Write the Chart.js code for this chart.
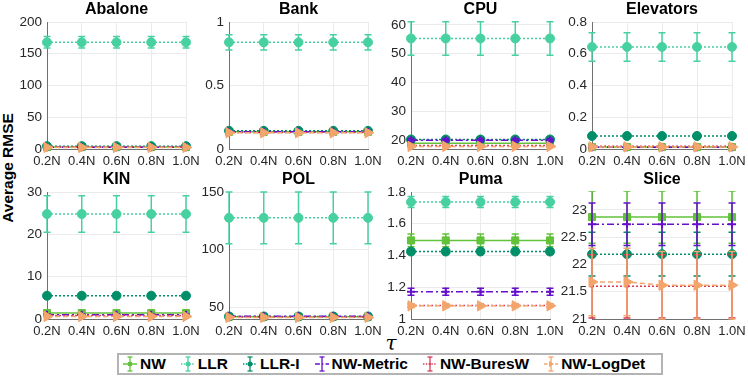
<!DOCTYPE html>
<html><head><meta charset="utf-8">
<script src="https://cdn.jsdelivr.net/npm/chart.js@4.4.1/dist/chart.umd.min.js"></script>
<style>
html,body{margin:0;padding:0;background:#fff;}
body{width:748px;height:382px;position:relative;overflow:hidden;font-family:"Liberation Sans",Arial,Helvetica,sans-serif;}
canvas{position:absolute;}
#ylab{position:absolute;left:8px;top:168px;transform:translate(-50%,-50%) rotate(-90deg);font-weight:bold;font-size:15.5px;white-space:nowrap;color:#000;}
#tau{position:absolute;left:391px;top:343px;transform:translate(-50%,-50%);font-family:"DejaVu Serif",serif;font-style:italic;font-size:20px;line-height:20px;color:#000;}
#legend{position:absolute;left:117px;top:353px;width:546px;height:22px;box-sizing:border-box;border:2px solid #b4b4b4;display:flex;align-items:center;padding-left:4px;background:#fff;}
.item{display:flex;align-items:center;margin-right:15px;font-weight:bold;font-size:15.5px;color:#000;white-space:nowrap;}
.item svg{margin-right:3px;}
</style></head>
<body>
<div id="ylab">Average RMSE</div>
<div id="tau">τ</div>
<div id="legend"></div>
<script>
// ---------- data ----------
const tauLabels = ['0.2N','0.4N','0.6N','0.8N','1.0N'];
const panelTitles = ['Abalone','Bank','CPU','Elevators','KIN','POL','Puma','Slice'];
const methodNames = ['NW','LLR','LLR-I','NW-Metric','NW-BuresW','NW-LogDet'];
const yMin = [0, 0, 17, 0, 0, 40, 1, 21];
const yMax = [200, 1, 61, 0.8, 30, 150, 1.8, 23.33];
const yTicks = [
  [0,50,100,150,200],
  [0,0.5,1],
  [20,30,40,50,60],
  [0,0.2,0.4,0.6,0.8],
  [0,10,20,30],
  [50,100,150],
  [1,1.2,1.4,1.6,1.8],
  [21,21.5,22,22.5,23]
];

// rows: NW, LLR, LLR-I, NW-Metric, NW-BuresW, NW-LogDet
const abaloneMean = [
  [3.0,3.0,3.0,3.0,3.0],
  [168,168,168,168,168],
  [4.5,4.5,4.5,4.5,4.5],
  [2.8,2.8,2.8,2.8,2.8],
  [3.0,3.0,3.0,3.0,3.0],
  [2.5,2.5,2.5,2.5,2.5]];
const abaloneErr = [
  [0.3,0.3,0.3,0.3,0.3],
  [9,9,9,9,9],
  [0.4,0.4,0.4,0.4,0.4],
  [0.3,0.3,0.3,0.3,0.3],
  [0.3,0.3,0.3,0.3,0.3],
  [0.3,0.3,0.3,0.3,0.3]];

const bankMean = [
  [0.135,0.135,0.135,0.135,0.135],
  [0.84,0.84,0.84,0.84,0.84],
  [0.143,0.143,0.143,0.143,0.143],
  [0.135,0.135,0.135,0.135,0.135],
  [0.13,0.13,0.13,0.13,0.13],
  [0.128,0.128,0.128,0.128,0.128]];
const bankErr = [
  [0.004,0.004,0.004,0.004,0.004],
  [0.06,0.06,0.06,0.06,0.06],
  [0.004,0.004,0.004,0.004,0.004],
  [0.004,0.004,0.004,0.004,0.004],
  [0.004,0.004,0.004,0.004,0.004],
  [0.004,0.004,0.004,0.004,0.004]];

const cpuMean = [
  [19.0,19.0,19.0,19.0,19.0],
  [55.3,55.3,55.3,55.3,55.3],
  [20.3,20.3,20.3,20.3,20.3],
  [20.0,20.0,20.0,20.0,20.0],
  [18.2,18.2,18.2,18.2,18.2],
  [17.9,17.9,17.9,17.9,17.9]];
const cpuErr = [
  [0.3,0.3,0.3,0.3,0.3],
  [5.8,5.8,5.8,5.8,5.8],
  [0.5,0.5,0.5,0.5,0.5],
  [0.6,0.6,0.6,0.6,0.6],
  [0.3,0.3,0.3,0.3,0.3],
  [0.3,0.3,0.3,0.3,0.3]];

const elevatorsMean = [
  [0.012,0.012,0.012,0.012,0.012],
  [0.643,0.643,0.643,0.643,0.643],
  [0.082,0.082,0.082,0.082,0.082],
  [0.011,0.011,0.011,0.011,0.011],
  [0.018,0.018,0.018,0.018,0.018],
  [0.013,0.013,0.013,0.013,0.013]];
const elevatorsErr = [
  [0.001,0.001,0.001,0.001,0.001],
  [0.09,0.09,0.09,0.09,0.09],
  [0.003,0.003,0.003,0.003,0.003],
  [0.001,0.001,0.001,0.001,0.001],
  [0.001,0.001,0.001,0.001,0.001],
  [0.001,0.001,0.001,0.001,0.001]];

const kinMean = [
  [1.4,1.4,1.4,1.4,1.4],
  [24.8,24.8,24.8,24.8,24.8],
  [5.5,5.5,5.5,5.5,5.5],
  [1.0,1.0,1.0,1.0,1.0],
  [0.8,0.8,0.8,0.8,0.8],
  [0.6,0.6,0.6,0.6,0.6]];
const kinErr = [
  [0.1,0.1,0.1,0.1,0.1],
  [4.3,4.3,4.3,4.3,4.3],
  [0.2,0.2,0.2,0.2,0.2],
  [0.1,0.1,0.1,0.1,0.1],
  [0.1,0.1,0.1,0.1,0.1],
  [0.1,0.1,0.1,0.1,0.1]];

const polMean = [
  [42.0,42.0,42.0,42.0,42.0],
  [127.6,127.6,127.6,127.6,127.6],
  [42.2,42.2,42.2,42.2,42.2],
  [42.3,42.3,42.3,42.3,42.3],
  [41.8,41.8,41.8,41.8,41.8],
  [41.4,41.4,41.4,41.4,41.4]];
const polErr = [
  [0.3,0.3,0.3,0.3,0.3],
  [22.5,22.5,22.5,22.5,22.5],
  [0.3,0.3,0.3,0.3,0.3],
  [0.3,0.3,0.3,0.3,0.3],
  [0.3,0.3,0.3,0.3,0.3],
  [0.3,0.3,0.3,0.3,0.3]];

const pumaMean = [
  [1.495,1.495,1.495,1.495,1.495],
  [1.737,1.737,1.737,1.737,1.737],
  [1.425,1.425,1.425,1.425,1.425],
  [1.172,1.172,1.172,1.172,1.172],
  [1.085,1.085,1.085,1.085,1.085],
  [1.083,1.083,1.083,1.083,1.083]];
const pumaErr = [
  [0.04,0.04,0.04,0.04,0.04],
  [0.035,0.035,0.035,0.035,0.035],
  [0.015,0.015,0.015,0.015,0.015],
  [0.022,0.022,0.022,0.022,0.022],
  [0.01,0.01,0.01,0.01,0.01],
  [0.01,0.01,0.01,0.01,0.01]];

const sliceMean = [
  [22.87,22.87,22.87,22.87,22.87],
  [null,null,null,null,null],
  [22.19,22.19,22.19,22.19,22.19],
  [22.74,22.74,22.74,22.74,22.74],
  [21.6,21.6,21.6,21.6,21.6],
  [21.68,21.68,21.62,21.62,21.62]];
const sliceErr = [
  [0.48,0.48,0.48,0.48,0.48],
  [0,0,0,0,0],
  [0.4,0.4,0.4,0.4,0.4],
  [0.39,0.39,0.39,0.39,0.39],
  [0.58,0.58,0.58,0.58,0.58],
  [0.62,0.62,0.62,0.62,0.62]];

const panelMeans = [abaloneMean, bankMean, cpuMean, elevatorsMean, kinMean, polMean, pumaMean, sliceMean];
const panelErrs  = [abaloneErr, bankErr, cpuErr, elevatorsErr, kinErr, polErr, pumaErr, sliceErr];

// ---------- styles ----------
const colors = ['#62c23a','#48d1a0','#008f68','#6610cc','#d93a54','#f4a56c'];
const dashes = [[], [2,2], [2,2], [7,3,2,3], [2,2], [5,3]];
const pStyles = ['rect','circle','circle','cross','circle','triangle'];
const pRadius = [5, 4.5, 4.5, 4, 1.5, 6];
const pRot = [0,0,0,0,0,90];

const FONT = '"Liberation Sans", Arial, Helvetica, sans-serif';
Chart.defaults.font.family = FONT;

const plotLeft = [47, 229, 411, 592];
const plotRight = [186, 368, 550, 732];
const rowTop = [0, 170];
const YW = 44, PR = 16, XH = 20, CH = 169;

const errorBarPlugin = {
  id: 'errbars',
  beforeDatasetDraw(chart, args) {
    const ds = chart.data.datasets[args.index];
    if (!ds.errors) return;
    const ys = chart.scales.y, ca = chart.chartArea, ctx = chart.ctx;
    ctx.save();
    ctx.beginPath();
    ctx.rect(ca.left - 10, ca.top - 1, ca.right - ca.left + 20, ca.bottom - ca.top + 2);
    ctx.clip();
    ctx.strokeStyle = ds.borderColor;
    ctx.lineWidth = 1.5;
    ctx.setLineDash([]);
    args.meta.data.forEach((pt, i) => {
      const v = ds.data[i], e = ds.errors[i];
      if (v == null || !e) return;
      const y1 = ys.getPixelForValue(v + e), y2 = ys.getPixelForValue(v - e), x = pt.x;
      ctx.beginPath();
      ctx.moveTo(x, y1); ctx.lineTo(x, y2);
      ctx.moveTo(x - 3.5, y1); ctx.lineTo(x + 3.5, y1);
      ctx.moveTo(x - 3.5, y2); ctx.lineTo(x + 3.5, y2);
      ctx.stroke();
    });
    ctx.restore();
  }
};

panelTitles.forEach((title, idx) => {
  const col = idx % 4, row = Math.floor(idx / 4);
  const L = plotLeft[col], R = plotRight[col];
  const cv = document.createElement('canvas');
  const w = YW + (R - L) + PR;
  cv.width = w; cv.height = CH;
  cv.style.left = (L - YW) + 'px';
  cv.style.top = rowTop[row] + 'px';
  cv.style.width = w + 'px'; cv.style.height = CH + 'px';
  document.body.appendChild(cv);

  const datasets = methodNames.map((m, i) => ({
    label: m,
    data: panelMeans[idx][i],
    errors: panelErrs[idx][i],
    borderColor: colors[i],
    backgroundColor: colors[i],
    borderWidth: 1.5,
    borderDash: dashes[i],
    pointStyle: pStyles[i],
    pointRadius: pRadius[i],
    pointRotation: pRot[i],
    pointBorderWidth: i === 3 ? 2 : 1,
    pointBorderColor: colors[i],
    pointBackgroundColor: colors[i],
    fill: false,
    tension: 0,
    clip: 8,
    order: 5 - i
  }));

  new Chart(cv, {
    type: 'line',
    data: { labels: tauLabels, datasets },
    options: {
      responsive: false,
      animation: false,
      events: [],
      devicePixelRatio: 1,
      layout: { padding: { left: 0, right: PR, top: 0, bottom: 0 } },
      plugins: {
        legend: { display: false },
        tooltip: { enabled: false },
        title: {
          display: true, text: title, fullSize: false, color: '#000',
          font: { size: 16, weight: 'bold', lineHeight: 1, family: FONT },
          padding: { top: 2, bottom: 4 }
        }
      },
      scales: {
        x: {
          type: 'category', offset: false,
          grid: { color: '#ebebeb', drawTicks: false },
          border: { color: '#707070', width: 1 },
          ticks: { padding: 5, color: '#262626', font: { size: 13 }, maxRotation: 0, autoSkip: false },
          afterFit(s) { s.height = XH; s.paddingLeft = 0; s.paddingRight = 0; }
        },
        y: {
          min: yMin[idx], max: yMax[idx],
          grid: { color: '#ebebeb', drawTicks: false },
          border: { color: '#707070', width: 1 },
          ticks: { padding: 5, color: '#262626', font: { size: 13.5 }, autoSkip: false, callback: v => String(v) },
          afterBuildTicks(s) { s.ticks = yTicks[idx].map(v => ({ value: v })); },
          afterFit(s) { s.width = YW; s.paddingTop = 0; s.paddingBottom = 0; }
        }
      }
    },
    plugins: [errorBarPlugin]
  });
});

// ---------- legend ----------
const legendMarkers = [
  '<rect x="5" y="8" width="4" height="4" fill="C"/>',
  '<circle cx="7" cy="10" r="2.5" fill="C"/>',
  '<circle cx="7" cy="10" r="2.5" fill="C"/>',
  '',
  '<circle cx="7" cy="10" r="1" fill="C"/>',
  '<polygon points="5,7 10,10 5,13" fill="C"/>'
];
const legend = document.getElementById('legend');
methodNames.forEach((m, i) => {
  const c = colors[i];
  const dash = dashes[i].length ? 'stroke-dasharray="' + dashes[i].map(d => d * 0.7).join(' ') + '"' : '';
  const svg = '<svg width="14" height="20" viewBox="0 0 14 20">' +
    '<line x1="0" y1="10" x2="14" y2="10" stroke="' + c + '" stroke-width="1.5" ' + dash + '/>' +
    '<line x1="7" y1="3" x2="7" y2="17" stroke="' + c + '" stroke-width="1.3"/>' +
    '<line x1="4.5" y1="3" x2="9.5" y2="3" stroke="' + c + '" stroke-width="1.3"/>' +
    '<line x1="4.5" y1="17" x2="9.5" y2="17" stroke="' + c + '" stroke-width="1.3"/>' +
    legendMarkers[i].replace(/C/g, c) + '</svg>';
  const it = document.createElement('div');
  it.className = 'item';
  it.innerHTML = svg + '<span>' + m + '</span>';
  legend.appendChild(it);
});
</script>
</body></html>
